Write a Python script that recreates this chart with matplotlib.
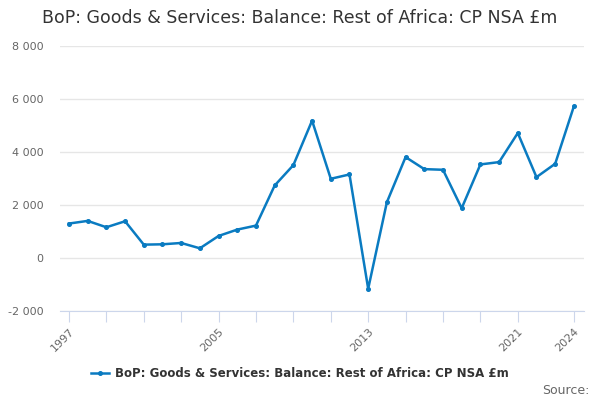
import numpy as np
import matplotlib
matplotlib.use('Agg')
import matplotlib.pyplot as plt

years = list(range(1997, 2025))
values = [1300, 1400, 1160, 1387, 504, 517, 567, 366, 832, 1072, 1223, 2736, 3506,
          5183, 2989, 3153, -1160, 2106, 3808, 3354, 3329, 1879, 3531, 3619, 4716,
          3052, 3556, 5725]
series_name = 'BoP: Goods & Services: Balance: Rest of Africa: CP NSA £m'
tick_years = [1997, 1999, 2001, 2003, 2005, 2007, 2009, 2011, 2013, 2015, 2017, 2019, 2021, 2024]
label_years = [1997, 2005, 2013, 2021, 2024]
y_ticks = [-2000, 0, 2000, 4000, 6000, 8000]

line_color = '#0a7bc1'

fig = plt.figure(figsize=(6, 4), dpi=100)
ax = fig.add_axes([0.1, 0.2225, 0.873, 0.6625])

ax.plot(years, values, color=line_color, lw=1.8, marker='o', ms=2.6,
        label=series_name)

ax.set_xlim(1996.52, 2024.53)
ax.set_ylim(-2000, 8000)
ax.set_yticks(y_ticks)
ax.set_yticklabels(['{:,}'.format(v).replace(',', ' ') for v in y_ticks],
                   color='#666666', fontsize=8)
ax.set_xticks(tick_years)
ax.set_xticklabels([str(y) if y in label_years else '' for y in tick_years],
                   rotation=45, ha='right', rotation_mode='anchor',
                   color='#666666', fontsize=8)
ax.tick_params(axis='y', length=0, pad=12)
ax.tick_params(axis='x', length=8, color='#ccd6eb', pad=3)

ax.grid(axis='y', color='#e6e6e6', lw=1)
ax.set_axisbelow(True)
for s in ['top', 'right', 'left']:
    ax.spines[s].set_visible(False)
ax.spines['bottom'].set_color('#ccd6eb')

fig.text(0.5, 0.955, series_name, ha='center', va='center',
         fontsize=12.5, color='#333333')
fig.legend(loc='center', bbox_to_anchor=(0.5, 0.067), frameon=False,
           prop={'size': 8.5, 'weight': 'bold'}, handlelength=1.5,
           handletextpad=0.5, labelcolor='#333333')
fig.text(0.982, 0.025, 'Source:', ha='right', va='center',
         fontsize=9, color='#666666')

fig.savefig('out.png')
